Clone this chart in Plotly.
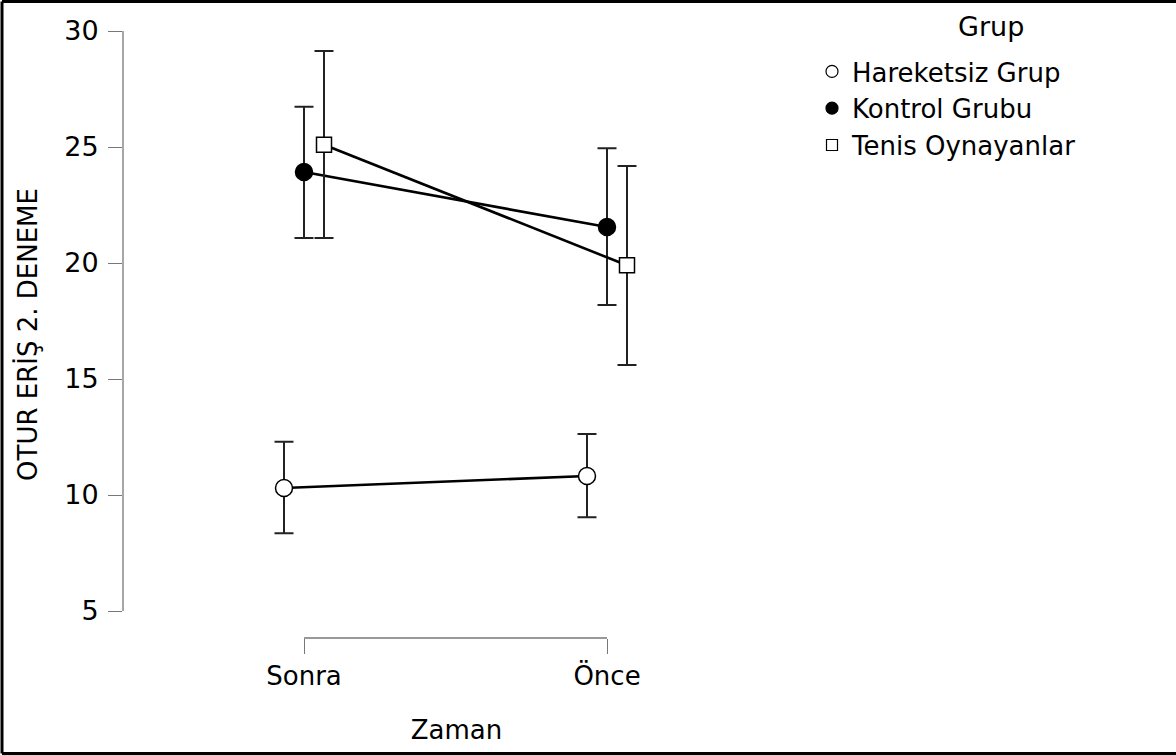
import plotly.graph_objects as go

categories = ["Sonra", "Önce"]
groups = ["Hareketsiz Grup", "Kontrol Grubu", "Tenis Oynayanlar"]
means = {
    "Hareketsiz Grup": [10.30, 10.82],
    "Kontrol Grubu": [23.92, 21.55],
    "Tenis Oynayanlar": [25.10, 19.90],
}
upper = {
    "Hareketsiz Grup": [12.30, 12.63],
    "Kontrol Grubu": [26.74, 24.95],
    "Tenis Oynayanlar": [29.14, 24.18],
}
lower = {
    "Hareketsiz Grup": [8.35, 9.04],
    "Kontrol Grubu": [21.08, 18.19],
    "Tenis Oynayanlar": [21.08, 15.60],
}
y_ticks = [5, 10, 15, 20, 25, 30]
legend_title = "Grup"

W, H = 1176, 755
L, T, R, B = 123, 31, 386, 117
PW, PH = W - L - R, H - T - B
px_per_unit_y = 23.2
px_per_cat = 303
dodge = 20 / px_per_cat

styles = {
    "Hareketsiz Grup": dict(symbol="circle", color="white", size=17),
    "Kontrol Grubu": dict(symbol="circle", color="black", size=17),
    "Tenis Oynayanlar": dict(symbol="square", color="white", size=15),
}
offsets = {"Hareketsiz Grup": -dodge, "Kontrol Grubu": 0.0, "Tenis Oynayanlar": dodge}

fig = go.Figure()
for g in groups:
    xs = [i + offsets[g] for i in range(len(categories))]
    m = means[g]
    fig.add_trace(go.Scatter(
        x=xs, y=m, mode="lines+markers", showlegend=False,
        line=dict(color="black", width=2.6),
        marker=dict(symbol=styles[g]["symbol"], size=styles[g]["size"],
                    color=styles[g]["color"], line=dict(color="black", width=1.5)),
        error_y=dict(type="data", symmetric=False,
                     array=[u - v for u, v in zip(upper[g], m)],
                     arrayminus=[v - lo for v, lo in zip(m, lower[g])],
                     color="#222222", thickness=2, width=9.5),
    ))
for g in groups:
    fig.add_trace(go.Scatter(
        x=[None], y=[None], mode="markers", name=g,
        marker=dict(symbol=styles[g]["symbol"], size=12 if styles[g]["symbol"] == "circle" else 11,
                    color=styles[g]["color"], line=dict(color="black", width=1.2)),
    ))

ymax = 30
ymin = ymax - PH / px_per_unit_y
xmin = -(304 - L) / px_per_cat
xmax = (L + PW - 304) / px_per_cat

axis_color = "#777777"
font = "DejaVu Sans"


def px2paper_x(p):
    return (p - L) / PW


def px2paper_y(p):
    return (T + PH - p) / PH


fig.update_layout(
    width=W, height=H,
    margin=dict(l=L, r=R, t=T, b=B, autoexpand=False),
    paper_bgcolor="white", plot_bgcolor="white",
    font=dict(family=font, color="black", size=26),
    xaxis=dict(range=[xmin, xmax], tickvals=list(range(len(categories))), ticktext=categories,
               showgrid=False, zeroline=False, showline=False,
               ticks="outside", ticklen=15, tickcolor=axis_color, tickwidth=1.3,
               tickfont=dict(size=26),
               title=dict(text="Zaman", font=dict(size=26), standoff=30)),
    yaxis=dict(range=[ymin, ymax], tickvals=y_ticks,
               showgrid=False, zeroline=False, showline=False,
               ticks="outside", ticklen=14, tickcolor=axis_color, tickwidth=1.3,
               tickfont=dict(size=27), ticklabelstandoff=4,
               title=dict(text="OTUR ERİŞ 2. DENEME", font=dict(size=26), standoff=19)),
    legend=dict(x=px2paper_x(812), xanchor="left", y=px2paper_y(48), yanchor="top",
                font=dict(size=26), bgcolor="rgba(0,0,0,0)", itemsizing="trace"),
    annotations=[dict(text=legend_title, xref="paper", yref="paper",
                      x=px2paper_x(991), y=px2paper_y(27), xanchor="center", yanchor="middle",
                      showarrow=False, font=dict(size=27, color="black"))],
)

frame = dict(color="black", width=3)
left, right, top, bottom = px2paper_x(2), px2paper_x(W), px2paper_y(1.5), px2paper_y(753.5)
shapes = [
    dict(type="line", xref="paper", yref="y", x0=0, x1=0, y0=y_ticks[0], y1=y_ticks[-1],
         line=dict(color=axis_color, width=1.3)),
    dict(type="line", xref="x", yref="paper", x0=0, x1=len(categories) - 1, y0=0, y1=0,
         line=dict(color=axis_color, width=1.3)),
    dict(type="line", xref="paper", yref="paper", x0=left, x1=left, y0=bottom, y1=top, line=frame),
    dict(type="line", xref="paper", yref="paper", x0=left, x1=right, y0=top, y1=top, line=frame),
    dict(type="line", xref="paper", yref="paper", x0=left, x1=right, y0=bottom, y1=bottom, line=frame),
]
fig.update_layout(shapes=shapes)

fig.write_html("out.html", config={"displayModeBar": False},
               post_script="document.body.style.margin='0';document.body.style.overflow='hidden';")
